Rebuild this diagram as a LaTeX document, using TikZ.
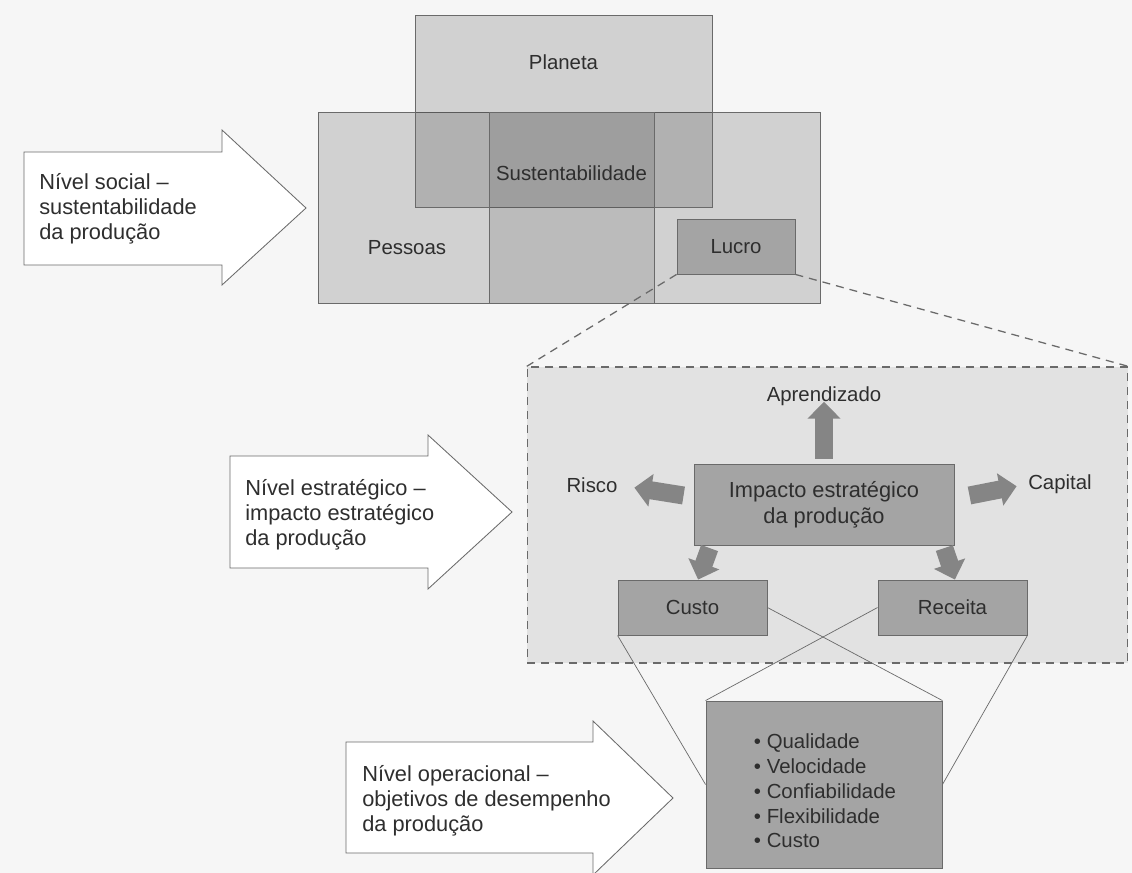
\documentclass[tikz,border=0pt]{standalone}
\usepackage{fontspec}
\setmainfont{Liberation Sans}
\usetikzlibrary{arrows.meta, positioning, calc}

\definecolor{papel}{HTML}{F6F6F6}
\definecolor{tinta}{HTML}{2E2E2E}
\definecolor{borda}{HTML}{6A6A6A}
\definecolor{cinza}{HTML}{A4A4A4}
\definecolor{quadro}{HTML}{E2E2E2}
\definecolor{setacor}{HTML}{858585}

\begin{document}
\begin{tikzpicture}[
        x=0.025cm, y=-0.025cm,
        every node/.style={text=tinta},
        camada/.style={
            draw=borda,
            line width=0.5pt,
            rectangle,
            inner sep=0pt,
            fill=black,
            fill opacity=0.15
        },
        caixa/.style={
            draw=borda,
            line width=0.6pt,
            rectangle,
            inner sep=0pt,
            fill=cinza,
            font=\fontsize{14.5}{17.8}\selectfont,
            align=center
        },
        rotulo/.style={inner sep=0pt, font=\fontsize{14.5}{17.5}\selectfont},
        nivel/.style={draw=borda, line width=0.6pt, fill=white},
        niveltxt/.style={inner sep=0pt, anchor=west, align=left, font=\fontsize{15.5}{17.8}\selectfont},
        seta/.style={draw=setacor, line width=0.45cm, -{Triangle[length=0.42cm, width=0.8cm]}},
        ligacao/.style={draw=borda, line width=0.5pt},
        tracejado/.style={draw=borda, line width=0.9pt, dash pattern=on 0.2cm off 0.15cm}
    ]

        \fill[papel] (0,0) rectangle (1132,873);
        \useasboundingbox (0,0) rectangle (1132,873);
        \clip (0,0) rectangle (1132,873);

        % setas dos niveis
        \draw[nivel] (24,152) -- (222,152) -- (222,130) -- (306,208) -- (222,285) -- (222,265) -- (24,265) -- cycle;
        \node[niveltxt] (social) at (39,209) {Nível social --\\sustentabilidade\\da produção};

        \draw[nivel] (230,456) -- (428,456) -- (428,435) -- (512,512) -- (428,589) -- (428,568) -- (230,568) -- cycle;
        \node[niveltxt] (estrategico) at (245,515) {Nível estratégico --\\impacto estratégico\\da produção};

        \draw[nivel] (346,742) -- (593,742) -- (593,721) -- (673,798) -- (593,875) -- (593,853) -- (346,853) -- cycle;
        \node[niveltxt] (operacional) at (362,801) {Nível operacional --\\objetivos de desempenho\\da produção};

        % nivel social
        \node[camada, minimum width=12.55cm, minimum height=4.775cm] (pessoas) at (569,207.5) {};
        \node[camada, minimum width=7.425cm, minimum height=4.8cm] (planeta) at (563.5,111) {};
        \node[camada, fill opacity=0.1, minimum width=4.125cm, minimum height=4.775cm] (sust) at (571.5,207.5) {};
        \node[caixa, minimum width=2.95cm, minimum height=1.375cm] (lucro) at (736,246.5) {Lucro};

        \node[rotulo, below=1.0cm of planeta.north] (planetatxt) {Planeta};
        \node[rotulo] (susttxt) at (571.5,173) {Sustentabilidade};
        \node[rotulo] (pessoastxt) at (407,248) {Pessoas};

        % nivel estrategico
        \node[tracejado, fill=quadro, rectangle, minimum width=15cm, minimum height=7.4cm] (quadro) at (827.5,515) {};
        \draw[tracejado] (lucro.south west) -- (quadro.north west);
        \draw[tracejado] (lucro.south east) -- (quadro.north east);

        \node[caixa, font=\fontsize{15.5}{18.5}\selectfont, minimum width=6.5cm, minimum height=2.025cm] (impacto) at (824,504.5) {Impacto estratégico\\da produção};

        \node[rotulo] (aprend) at (824,396) {Aprendizado};
        \node[rotulo] (risco) at (592,485) {Risco};
        \node[rotulo] (capital) at (1060,484) {Capital};

        \node[caixa, minimum width=3.725cm, minimum height=1.375cm] (custo) at (692.5,607.5) {Custo};
        \node[caixa, minimum width=3.725cm, minimum height=1.375cm] (receita) at (952.5,607.5) {Receita};

        \draw[seta, shorten <=0.125cm, shorten >=-0.1cm] (impacto.north) -- (aprend.south);
        \draw[seta, shorten >=0.42cm] ([shift={(-10,-9)}]impacto.west) -- (risco.east);
        \draw[seta, shorten >=0.29cm] ([shift={(15,-9)}]impacto.east) -- (capital.west);
        \draw[seta, shorten <=0.07cm] ([xshift=0.425cm]impacto.south west) -- ([xshift=0.14cm]custo.north);
        \draw[seta, shorten <=0.07cm] ([xshift=-0.275cm]impacto.south east) -- ([xshift=0.06cm]receita.north);

        % nivel operacional
        \node[caixa, minimum width=5.9cm, minimum height=4.175cm] (objetivos) at (824,784.5) {};
        \node[rotulo, align=left, font=\fontsize{14.5}{17.6}\selectfont] (lista) at (825,791)
            {• Qualidade\\• Velocidade\\• Confiabilidade\\• Flexibilidade\\• Custo};

        \draw[ligacao] (custo.south west) -- (objetivos.west);
        \draw[ligacao] (custo.east) -- (objetivos.north east);
        \draw[ligacao] (receita.west) -- (objetivos.north west);
        \draw[ligacao] (receita.south east) -- (objetivos.east);

    \end{tikzpicture}
\end{document}
